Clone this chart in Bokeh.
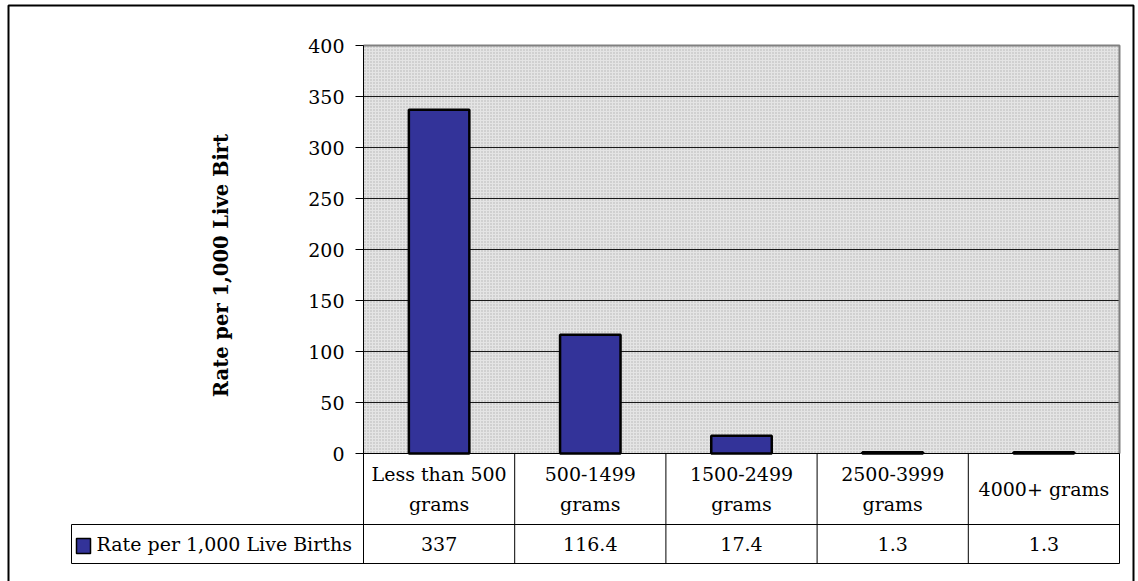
import math
from bokeh.plotting import figure
from bokeh.models import Range1d, FixedTicker, LinearAxis, ColumnDataSource
from bokeh.core.properties import value
from bokeh.embed import file_html
from bokeh.resources import INLINE

# --- data -------------------------------------------------------------
categories = ["Less than 500 grams", "500-1499 grams", "1500-2499 grams",
              "2500-3999 grams", "4000+ grams"]
category_lines = ["Less than 500\ngrams", "500-1499\ngrams", "1500-2499\ngrams",
                  "2500-3999\ngrams", "4000+ grams"]
rates = [337, 116.4, 17.4, 1.3, 1.3]
rate_labels = ["337", "116.4", "17.4", "1.3", "1.3"]
series_name = "Rate per 1,000 Live Births"
axis_title = "Rate per 1,000 Live Birt"
y_ticks = [0, 50, 100, 150, 200, 250, 300, 350, 400]

# --- layout (pixels) ----------------------------------------------------
W, H = 1138, 581
PLOT_L, PLOT_R = 363, 1119          # plot area / table columns
PLOT_T, ZERO_Y = 45, 453            # plot area top, value-axis zero
ROW1_B, ROW2_B = 524, 563           # table row bottoms
LEGEND_L = 71                       # left edge of the series-name cell
BORDER_L, BORDER_T, BORDER_R = 8, 5, 1133
YMAX = 400

n = len(categories)
col_w = (PLOT_R - PLOT_L) / n
px_per_unit = (ZERO_Y - PLOT_T) / YMAX


def dx(px):
    return (px - PLOT_L) / col_w


def dy(py):
    return (ZERO_Y - py) / px_per_unit


FONT = "DejaVu Serif"
FS = "19px"
BAR_COLOR = "#333399"

# the frame covers the whole canvas; the value axis is pinned at x = 0
p = figure(width=W, height=H, output_backend="svg", toolbar_location=None,
           x_range=Range1d(dx(0), dx(W)), y_range=Range1d(dy(H), dy(0)),
           x_axis_type=None, y_axis_type=None,
           min_border_left=0, min_border_right=0,
           min_border_top=0, min_border_bottom=0)
p.outline_line_color = None
p.background_fill_color = "white"
p.border_fill_color = "white"
p.grid.visible = False

# stippled plot area
p.quad(left=0, right=n, bottom=0, top=YMAX, fill_color="#e4e4e4",
       hatch_pattern="dot", hatch_color="#b0b0b0", hatch_scale=3,
       hatch_weight=1, line_color=None)

# gridlines across the plot area
p.segment(x0=[0] * (len(y_ticks) - 1), x1=[n] * (len(y_ticks) - 1),
          y0=y_ticks[1:], y1=y_ticks[1:], line_color="#1a1a1a", line_width=1)

# gray border on top / right of plot area
p.line([0, n, n], [YMAX, YMAX, 0], line_color="#808080", line_width=2)

# value axis
yax = LinearAxis(fixed_location=0, ticker=FixedTicker(ticks=y_ticks),
                 bounds=(dy(ROW2_B), YMAX))
yax.axis_line_color = "black"
yax.major_tick_line_color = "black"
yax.major_tick_out = 8
yax.major_tick_in = 0
yax.minor_tick_line_color = None
yax.major_label_standoff = 11
yax.major_label_text_font = FONT
yax.major_label_text_font_size = FS
yax.major_label_text_color = "black"
p.add_layout(yax, "left")

# bars
xs = [i + 0.5 for i in range(n)]
src = ColumnDataSource(dict(x=xs, top=rates, cat=categories,
                            lines=category_lines, lab=rate_labels))
p.vbar(x="x", top="top", bottom=0, width=0.4, source=src,
       fill_color=BAR_COLOR, line_color="black", line_width=2.5)

# data table under the chart
r1 = dy(ROW1_B)
r2 = dy(ROW2_B)
lx = dx(LEGEND_L)
p.segment(x0=[0, lx, lx], y0=[0, r1, r2], x1=[n, n, n], y1=[0, r1, r2],
          line_color="black", line_width=1)
p.segment(x0=[lx] + [i + 1 for i in range(n)], y0=[r1] + [0] * n,
          x1=[lx] + [i + 1 for i in range(n)], y1=[r2] * (n + 1),
          line_color="black", line_width=1)
p.text(x="x", y=(r1 / 2), text="lines", source=src, text_font=value(FONT),
       text_font_size=FS, text_align="center", text_baseline="middle",
       text_line_height=1.4, text_color="black")
p.text(x="x", y=((r1 + r2) / 2), text="lab", source=src, text_font=value(FONT),
       text_font_size=FS, text_align="center", text_baseline="middle",
       text_color="black")

# series-name cell with its swatch
p.quad(left=dx(76), right=dx(90), top=dy(538), bottom=dy(553),
       fill_color=BAR_COLOR, line_color="black", line_width=1.5)
p.text(x=[dx(96)], y=[(r1 + r2) / 2], text=[series_name], text_font=value(FONT),
       text_font_size=FS, text_align="left", text_baseline="middle",
       text_color="black")

# value axis title
p.text(x=[dx(221)], y=[dy(265)], text=[axis_title], angle=math.pi / 2,
       text_font=value(FONT), text_font_size="19.5px", text_font_style="bold",
       text_align="center", text_baseline="middle", text_color="black")

# chart border (open at the bottom edge of the canvas)
p.line([dx(BORDER_L), dx(BORDER_L), dx(BORDER_R), dx(BORDER_R)],
       [dy(H + 10), dy(BORDER_T), dy(BORDER_T), dy(H + 10)],
       line_color="black", line_width=2)

open("out.html", "w").write(file_html(p, INLINE))
